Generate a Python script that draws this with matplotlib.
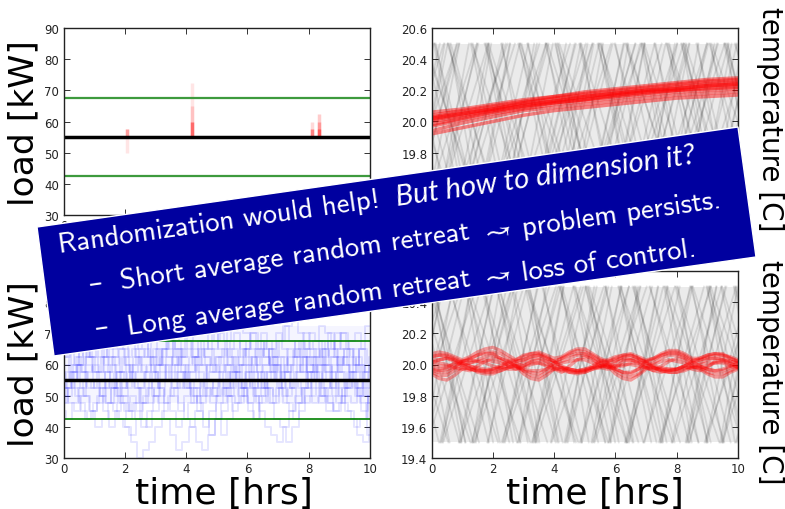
import numpy as np
import matplotlib
matplotlib.use('Agg')
import matplotlib.pyplot as plt
from itertools import cycle
from matplotlib.patches import Polygon

W, H = 785, 510

# load target and deadband [kW]
load_target = 55
load_band_hi = 67.5
load_band_lo = 42.5

# spikes in upper left panel
spike_t = [2.06, 2.06, 4.18, 4.18, 4.18, 8.1, 8.1, 8.35, 8.35, 8.35]
spike_lo = [50, 55, 55, 55, 55, 55, 55, 55, 55, 55]
spike_hi = [57.5, 57.5, 72.5, 65, 60, 60, 57.5, 62.5, 60, 57.5]
spike_alpha = [0.1, 0.3, 0.1, 0.15, 0.45, 0.15, 0.4, 0.2, 0.25, 0.4]

# lower left panel: number of units on, every 0.2 hrs (2.5 kW each)
unit_kw = 2.5
step_hrs = 0.2
units_start = [0, -0.07, -0.13, -0.03, -0.16, -0.1, -0.05, -0.18, -0.12, -0.02, -0.15, -0.08, -0.04, -0.11, -0.17, -0.06]
units_on = [
    [22,23,24,23,22,21,20,19,18,17,16,14,12,13,14,16,18,20,21,22,24,25,26,25,24,23,21,20,19,20,22,24,26,27,25,23,22,21,23,25,24,22,20,19,18,19,21,23,24,22,21,20],
    [25,26,24,23,25,27,26,24,22,20,19,18,17,16,18,20,22,23,21,19,17,16,14,13,15,17,19,21,23,25,26,28,27,25,24,22,20,21,23,24,26,27,29,28,26,24,25,23,21,20,19,18],
    [19,20,22,24,25,27,28,26,25,23,21,22,24,26,25,23,21,19,18,16,17,19,21,22,24,23,25,27,29,30,28,26,24,21,19,17,16,14,16,18,20,22,24,26,25,27,28,26,24,22,20,19],
    [24,22,20,18,17,19,21,23,25,26,24,22,23,25,27,29,28,26,24,25,27,25,23,21,19,17,18,20,22,24,22,20,18,16,15,14,16,18,19,21,23,25,26,24,22,20,18,17,15,14,16,18],
    [20,21,23,22,20,18,16,17,19,21,23,25,26,28,27,25,24,26,27,25,23,21,20,22,24,26,28,27,25,23,24,22,20,21,23,25,27,29,30,28,26,25,23,21,19,18,20,22,24,26,29,31],
    [27,28,26,24,22,21,23,25,24,22,20,18,19,17,16,18,20,22,24,26,25,23,25,27,26,24,22,20,18,19,21,23,25,26,24,22,24,26,25,23,21,19,20,22,21,23,25,27,28,26,24,22],
    [21,19,18,20,22,24,23,21,19,17,16,15,17,19,21,20,22,24,25,23,21,19,20,22,23,25,24,26,28,26,24,25,27,25,23,21,19,18,20,22,24,23,21,20,22,24,26,25,23,21,17,14],
    [23,25,27,26,28,30,29,27,25,24,26,24,22,21,23,22,24,26,28,27,25,26,24,22,20,21,19,21,23,22,20,18,17,19,21,20,22,24,22,24,26,28,27,25,27,25,23,21,22,20,22,24],
    [18,17,19,21,20,18,19,21,22,20,21,23,25,24,22,20,19,17,15,13,14,16,18,20,22,21,23,24,22,20,22,21,19,20,22,24,25,23,25,27,25,24,22,24,23,21,19,18,16,17,19,21],
    [26,24,25,23,21,22,20,22,21,19,18,20,18,20,22,24,26,25,27,29,27,25,27,25,23,25,26,24,22,21,19,17,20,22,23,25,23,21,19,21,23,22,20,18,20,22,20,19,21,23,25,27],
    [23,21,22,24,26,25,27,25,23,21,19,17,19,21,23,25,27,29,27,26,24,22,21,19,21,20,22,20,22,24,26,24,26,28,26,24,22,20,22,21,19,20,22,24,26,28,26,24,26,24,22,23],
    [20,22,24,26,24,23,25,23,21,23,25,27,25,23,24,26,24,22,20,18,20,22,24,26,28,27,29,25,23,21,23,25,23,24,26,28,26,24,26,25,23,21,19,21,23,25,24,22,20,18,20,22],
    [28,26,28,27,25,23,21,19,21,23,22,24,26,27,25,23,25,27,26,24,22,20,18,16,18,20,21,23,25,27,25,23,21,23,25,27,29,27,25,23,25,26,24,22,24,26,24,22,20,22,24,26],
    [21,23,21,19,17,18,20,18,16,18,20,22,21,19,21,23,21,19,21,23,21,23,25,24,22,20,22,24,26,24,26,28,26,24,26,24,21,19,17,19,21,23,25,23,21,19,21,23,21,19,15,17],
    [24,26,23,25,27,25,23,25,27,25,23,21,23,25,26,24,26,24,22,24,26,28,26,24,26,28,26,23,21,23,21,19,21,23,21,19,21,23,24,26,28,26,24,26,28,26,28,26,24,26,23,21],
    [19,21,23,21,23,25,27,28,26,28,26,23,21,19,19,21,23,25,23,21,23,21,19,17,15,17,15,17,19,21,23,21,23,21,19,21,23,25,27,25,23,25,27,23,25,23,21,23,25,23,21,19],
]

# temperature limits of the zigzag lines
temp_lo = 19.5
temp_hi = 20.5
leg_hrs = [1.3, 0.95, 1.55, 1.15, 1.7, 1.05, 1.4, 0.9, 1.25, 1.6, 1.0]

# start times [hrs] of rising and falling legs, they come in bunches
gray_up_top = [-1.22,-1.19,-1.15,-0.88,-0.85,-0.52,-0.5,-0.47,-0.43,-0.12,-0.09,0.23,0.27,0.3,0.34,0.78,0.83,1.02,1.05,1.09,
               1.12,1.55,1.58,1.62,1.97,2.01,2.04,2.39,2.42,2.45,2.49,2.92,2.96,3.41,3.44,3.48,3.52,3.55,3.82,3.85,
               4.19,4.22,4.26,4.29,4.61,4.65,5.11,5.14,5.17,5.21,5.24,5.52,5.56,5.91,5.95,5.98,6.01,6.46,6.49,6.53,
               6.97,7.0,7.04,7.07,7.39,7.42,7.73,7.76,7.8,7.83,7.87,8.26,8.3,8.33,8.72,8.76,8.79,9.17,9.2,9.24,
               9.27,9.31,9.68,9.71,9.75,9.97,10.0]
gray_down_top = [-1.02,-0.98,-0.95,-0.91,-0.62,-0.59,-0.24,-0.21,-0.17,0.08,0.11,0.14,0.52,0.55,0.59,0.63,1.28,1.31,1.35,1.73,
                 1.76,1.79,1.83,1.86,2.27,2.3,2.83,2.87,2.9,2.94,3.12,3.16,3.71,3.75,3.78,4.03,4.06,4.1,4.13,4.17,
                 4.82,4.85,4.89,5.42,5.45,5.49,5.52,5.55,5.97,6.0,6.33,6.36,6.39,6.84,6.87,6.91,6.94,7.27,7.31,7.66,
                 7.69,7.72,7.76,8.14,8.17,8.21,8.24,8.28,8.64,8.68,9.07,9.1,9.14,9.54,9.57,9.6,9.64,9.67,9.89,9.93]
gray_up_bottom = [-1.25,-1.22,-1.18,-0.76,-0.72,-0.69,-0.65,-0.21,-0.18,-0.14,0.28,0.31,0.35,0.38,0.89,0.93,0.96,1.31,1.34,1.38,
                  1.41,1.45,1.82,1.86,2.29,2.33,2.36,2.4,2.81,2.84,2.88,3.27,3.3,3.33,3.37,3.4,3.89,3.92,4.34,4.37,
                  4.41,4.45,4.84,4.88,4.91,5.22,5.25,5.29,5.32,5.77,5.8,5.84,6.31,6.34,6.38,6.41,6.45,6.92,6.95,7.42,
                  7.46,7.49,7.53,7.83,7.87,8.29,8.32,8.35,8.39,8.43,8.91,8.95,8.98,9.42,9.46,9.49,9.52,9.93,9.97]
gray_down_bottom = [-1.08,-1.05,-1.01,-0.98,-0.49,-0.46,-0.43,-0.04,0.0,0.03,0.06,0.1,0.57,0.61,1.11,1.14,1.18,1.21,1.64,1.67,
                    1.71,2.11,2.14,2.18,2.21,2.62,2.65,3.06,3.09,3.13,3.16,3.2,3.61,3.65,4.16,4.19,4.23,4.26,4.63,4.66,
                    4.7,5.01,5.04,5.08,5.11,5.15,5.66,5.69,6.09,6.12,6.16,6.19,6.56,6.6,6.63,6.67,7.11,7.14,7.59,7.62,
                    7.66,7.69,7.96,8.0,8.04,8.46,8.5,8.53,8.97,9.0,9.04,9.07,9.11,9.44,9.48,9.86,9.89,9.93]

# red lines upper right, read at every hour
red_top_t = [0, 1, 2, 3, 4, 5, 6, 7, 8, 9, 10]
red_top = [
    [20.06,20.08,20.11,20.14,20.16,20.19,20.21,20.23,20.25,20.27,20.28],
    [20.04,20.07,20.10,20.13,20.16,20.18,20.20,20.22,20.24,20.26,20.27],
    [20.03,20.06,20.09,20.12,20.15,20.17,20.19,20.21,20.23,20.25,20.26],
    [20.02,20.05,20.08,20.12,20.14,20.16,20.18,20.20,20.22,20.24,20.25],
    [20.02,20.05,20.08,20.11,20.13,20.16,20.18,20.20,20.21,20.23,20.24],
    [20.01,20.04,20.07,20.10,20.13,20.15,20.17,20.19,20.21,20.23,20.24],
    [20.00,20.03,20.07,20.10,20.12,20.14,20.17,20.19,20.20,20.22,20.23],
    [19.98,20.02,20.06,20.09,20.12,20.14,20.16,20.18,20.20,20.21,20.22],
    [19.97,20.01,20.05,20.08,20.11,20.13,20.15,20.17,20.19,20.20,20.21],
    [19.94,19.99,20.03,20.07,20.09,20.11,20.13,20.15,20.17,20.18,20.19],
    [19.92,19.96,20.00,20.04,20.07,20.09,20.11,20.13,20.15,20.16,20.17],
]

# red lines lower right, offset from 20 C in 0.01 C, every 0.25 hrs
red_step_hrs = 0.25
red_bottom = [
    [7,8,7,5,3,5,8,10,11,9,6,3,5,7,8,6,4,5,8,10,10,7,4,2,4,6,7,5,3,4,7,9,9,7,4,4,6,7,6,5,3],
    [5,6,6,4,2,3,6,8,8,7,4,2,3,5,6,4,2,4,7,9,8,6,3,1,2,5,6,4,2,3,6,8,8,6,3,3,5,6,6,4,2],
    [3,3,4,2,-1,1,3,5,6,4,2,-1,1,3,4,2,1,2,4,6,6,3,1,-2,1,3,3,2,-1,1,4,6,6,4,1,1,3,4,4,2,1],
    [0,-1,-1,0,1,1,2,3,2,1,0,1,-1,1,1,0,-1,1,2,3,3,1,-1,0,-1,-1,1,1,1,0,2,3,2,1,-1,0,1,1,2,0,-1],
    [-3,-4,-3,-2,0,-1,-2,-3,-3,-2,-1,-1,-3,-4,-4,-3,-1,-2,-3,-4,-3,-2,-1,1,-3,-5,-5,-3,-1,-1,-2,-3,-3,-2,-2,-1,-3,-4,-4,-2,-1],
    [-5,-7,-7,-4,-2,-3,-4,-5,-5,-4,-2,0,-4,-7,-8,-5,-3,-3,-4,-5,-5,-3,-2,0,-4,-7,-8,-6,-2,-2,-4,-5,-5,-4,-2,-2,-5,-6,-6,-4,-2],
    [-6,-9,-10,-7,-3,-2,-5,-6,-6,-4,-2,-1,-6,-9,-10,-7,-3,-2,-5,-6,-5,-3,-1,-1,-6,-9,-10,-7,-3,-2,-4,-5,-5,-3,-1,-3,-6,-8,-8,-5,-3],
    [1,3,4,3,1,-1,-3,-4,-4,-2,1,2,3,5,6,4,2,-2,-3,-4,-4,-2,1,2,3,4,4,3,2,-2,-3,-3,-3,-1,1,3,4,4,3,2,1],
    [-2,-3,-2,1,2,4,6,7,7,4,2,-1,-4,-5,-6,-3,1,4,6,7,7,5,2,-1,-3,-5,-6,-3,2,4,6,7,7,5,2,-1,-3,-4,-3,-1,1],
    [5,6,5,3,0,-3,-4,-4,-3,-1,2,3,6,7,7,5,2,-1,-3,-4,-3,-1,2,3,5,6,6,4,1,-2,-3,-4,-3,-1,2,4,6,7,7,4,2],
    [-4,-5,-5,-2,2,3,2,1,-1,-2,-3,-3,-1,2,3,2,-2,-4,-5,-5,-4,-2,-2,-3,-2,2,3,1,-2,-4,-5,-4,-3,-1,-3,-4,-2,2,3,1,-2],
    [2,1,0,-2,-3,-4,-1,2,4,3,-1,-3,-2,0,1,-1,-3,-5,-1,3,5,4,-1,-2,-1,0,0,-1,-2,-4,-1,2,4,3,-1,-2,-1,1,1,-1,-2],
]


def add_axes(x0, x1, y0, y1):
    ax = fig.add_axes([x0/W, 1 - y1/H, (x1 - x0)/W, (y1 - y0)/H])
    ax.set_xlim(0, 10)
    ax.set_xticks(range(0, 11, 2))
    ax.tick_params(direction='in', top=True, right=True, length=4, width=0.7, labelsize=8.5,
                   color='#333333', labelcolor='#222222', pad=3)
    for s in ax.spines.values():
        s.set_linewidth(1.0)
        s.set_color('#222222')
    return ax


def gray_lines(ax, ups, downs):
    # many overlapping lines read as a pale band, with the single legs on top
    ax.axhspan(temp_lo, temp_hi, color='k', alpha=0.08, lw=0)
    for t, d in zip(ups, cycle(leg_hrs)):
        ax.plot([t, t + d], [temp_lo, temp_hi], color='k', lw=1.3, alpha=0.1)
    for t, d in zip(downs, cycle(leg_hrs[::-1])):
        ax.plot([t, t + d], [temp_hi, temp_lo], color='k', lw=1.3, alpha=0.1)


fig = plt.figure(figsize=(W/100, H/100), dpi=100)

ax1 = add_axes(63.5, 370, 29, 216)
ax2 = add_axes(431.5, 738, 29, 216)
ax3 = add_axes(63.5, 370, 272, 459)
ax4 = add_axes(431.5, 738, 272, 459)

# upper left
ax1.set_ylim(30, 90)
for t, lo, hi, a in zip(spike_t, spike_lo, spike_hi, spike_alpha):
    ax1.vlines(t, lo, hi, color='red', lw=2.5, alpha=a)
ax1.axhline(load_target, color='k', lw=2.5)
ax1.axhline(load_band_hi, color='#3d9a3d', lw=1.6)
ax1.axhline(load_band_lo, color='#3d9a3d', lw=1.6)

# lower left
ax3.set_ylim(30, 90)
ax3.axhspan(47.5, 72.5, color='blue', alpha=0.04, lw=0)
for t0, u in zip(units_start, units_on):
    t = t0 + np.arange(len(u))*step_hrs
    ax3.step(t, np.array(u)*unit_kw, where='post', color='blue', lw=1.4, alpha=0.1)
ax3.axhline(load_target, color='k', lw=2.5)
ax3.axhline(load_band_hi, color='green', lw=1.2)
ax3.axhline(load_band_lo, color='green', lw=1.2)

# upper right
ax2.set_ylim(19.4, 20.6)
gray_lines(ax2, gray_up_top, gray_down_top)
for line in red_top:
    ax2.plot(red_top_t, line, color='red', lw=2.5, alpha=0.45)

# lower right
ax4.set_ylim(19.4, 20.6)
gray_lines(ax4, gray_up_bottom, gray_down_bottom)
for line in red_bottom:
    t = np.arange(len(line))*red_step_hrs
    ax4.plot(t, 20 + np.array(line)/100, color='red', lw=2.4, alpha=0.35)

# axis labels
ax1.set_ylabel('load [kW]', fontsize=24.8, va='center')
ax1.yaxis.set_label_coords(-0.129, 0.497)
ax3.set_ylabel('load [kW]', fontsize=24.8, va='center')
ax3.yaxis.set_label_coords(-0.129, 0.51)
ax2.yaxis.set_label_position('right')
ax2.set_ylabel('temperature [C]', fontsize=20, rotation=270, va='center')
ax2.yaxis.set_label_coords(1.104, 0.519)
ax4.yaxis.set_label_position('right')
ax4.set_ylabel('temperature [C]', fontsize=20, rotation=270, va='center')
ax4.yaxis.set_label_coords(1.104, 0.465)
ax3.set_xlabel('time [hrs]', fontsize=26, va='center')
ax3.xaxis.set_label_coords(0.524, -0.187)
ax4.set_xlabel('time [hrs]', fontsize=26, va='center')
ax4.xaxis.set_label_coords(0.533, -0.187)

# banner over everything
corners = [(37, 228), (738, 128), (756, 258), (54, 357)]
banner = Polygon([(x/W, 1 - y/H) for x, y in corners], closed=True, transform=fig.transFigure,
                 facecolor='#00009f', edgecolor='white', lw=1, zorder=10)
fig.add_artist(banner)

angle = 8.1
txt = dict(color='white', rotation=angle, rotation_mode='anchor', ha='left', va='baseline', zorder=11)
sans = dict(family='cmss10', fontsize=20.6)


def put(x, y, s, **kw):
    fig.text(x/W, 1 - y/H, s, **{**txt, **kw})


put(59, 253, 'Randomization would help!', **sans)
put(397, 206, 'But how to dimension it?', family='Lato', style='italic', fontsize=21.2)
put(90, 293, '\u2013', family='DejaVu Sans', fontsize=20)
put(121, 289, 'Short average random retreat', **sans)
put(481, 241, r'$\rightsquigarrow$', math_fontfamily='stix', fontsize=21)
put(523, 236, 'problem persists.', **sans)
put(96, 337, '\u2013', family='DejaVu Sans', fontsize=20)
put(128, 335, 'Long average random retreat', **sans)
put(481, 286, r'$\rightsquigarrow$', math_fontfamily='stix', fontsize=21)
put(523, 281, 'loss of control.', **sans)

fig.savefig('out.png', dpi=100)
